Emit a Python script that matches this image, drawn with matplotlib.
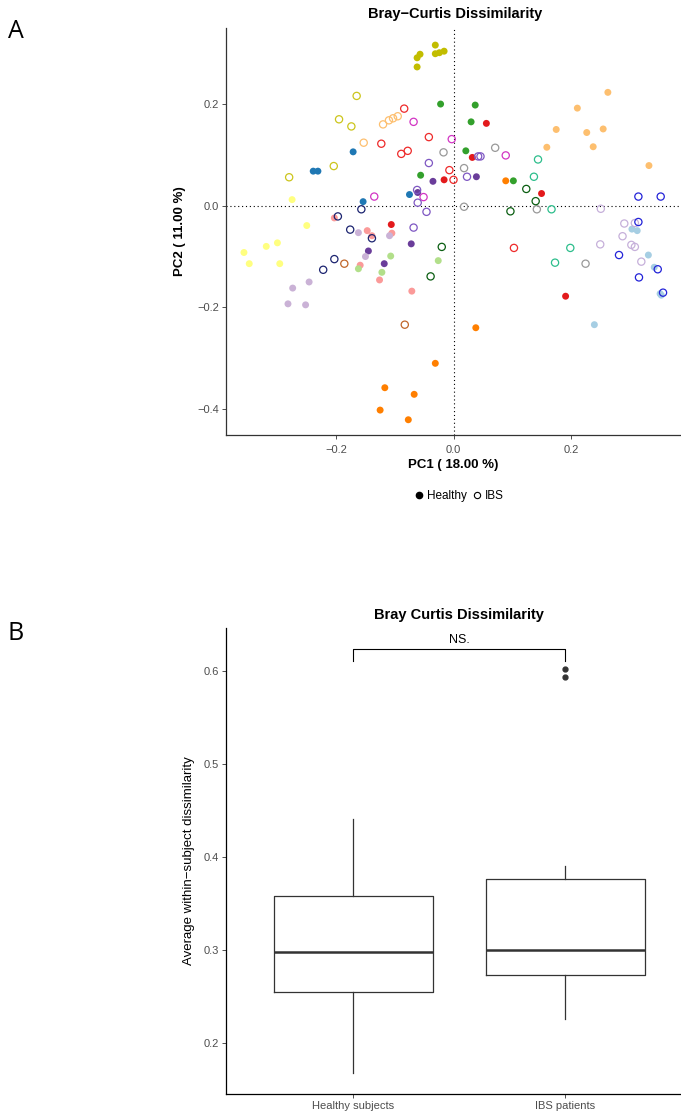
import matplotlib
matplotlib.use("Agg")
import matplotlib.pyplot as plt
from matplotlib.lines import Line2D

plt.rcParams['font.family'] = ['Liberation Sans', 'DejaVu Sans']

# ---- panel A: PCoA coordinates (PC1, PC2) ----
# healthy subjects (filled markers)
h_olive = [(-0.031, 0.316), (-0.057, 0.298), (-0.062, 0.291), (-0.031, 0.299),
           (-0.024, 0.301), (-0.016, 0.304), (-0.062, 0.273)]
h_green = [(-0.022, 0.200), (-0.056, 0.060), (0.037, 0.198), (0.030, 0.165),
           (0.021, 0.108), (0.102, 0.049)]
h_red = [(-0.016, 0.051), (-0.106, -0.037), (0.056, 0.162), (0.032, 0.095),
         (0.150, 0.024), (0.191, -0.178)]
h_blue = [(-0.171, 0.106), (-0.239, 0.068), (-0.231, 0.068), (-0.075, 0.022),
          (-0.154, 0.008)]
h_darkpurple = [(-0.035, 0.048), (-0.061, 0.026), (-0.072, -0.075), (-0.145, -0.089),
                (-0.118, -0.114), (0.039, 0.057)]
h_lightyellow = [(-0.275, 0.012), (-0.250, -0.039), (-0.357, -0.092), (-0.348, -0.114),
                 (-0.319, -0.080), (-0.300, -0.073), (-0.296, -0.114)]
h_pink = [(-0.203, -0.024), (-0.147, -0.049), (-0.139, -0.059), (-0.105, -0.054),
          (-0.159, -0.117), (-0.126, -0.146), (-0.071, -0.168)]
h_lavender = [(-0.162, -0.053), (-0.109, -0.059), (-0.150, -0.100), (-0.246, -0.150),
              (-0.274, -0.162), (-0.282, -0.193), (-0.252, -0.195)]
h_lightgreen = [(-0.026, -0.108), (-0.107, -0.099), (-0.122, -0.131), (-0.162, -0.124)]
h_orange = [(-0.031, -0.310), (-0.117, -0.358), (-0.067, -0.371), (-0.125, -0.402),
            (-0.077, -0.421), (0.038, -0.240), (0.089, 0.049)]
h_lightorange = [(0.263, 0.223), (0.211, 0.192), (0.175, 0.150), (0.227, 0.144),
                 (0.255, 0.151), (0.159, 0.115), (0.238, 0.116), (0.333, 0.079)]
h_lightblue = [(0.304, -0.046), (0.313, -0.049), (0.332, -0.097), (0.342, -0.121),
               (0.354, -0.176), (0.240, -0.234), (0.352, -0.173)]

# IBS patients (open markers)
i_olive = [(-0.165, 0.216), (-0.195, 0.170), (-0.174, 0.156), (-0.204, 0.078),
           (-0.280, 0.056)]
i_lightorange = [(-0.120, 0.160), (-0.110, 0.168), (-0.103, 0.172), (-0.095, 0.176),
                 (-0.153, 0.124)]
i_red = [(-0.084, 0.191), (-0.042, 0.135), (-0.123, 0.122), (-0.089, 0.102),
         (-0.078, 0.108), (-0.007, 0.070), (0.0, 0.051), (0.103, -0.083)]
i_magenta = [(-0.068, 0.165), (-0.003, 0.131), (-0.051, 0.017), (-0.135, 0.018),
             (0.089, 0.099)]
i_gray = [(-0.017, 0.105), (0.071, 0.114), (0.018, 0.074), (0.142, -0.007),
          (0.018, -0.002), (0.225, -0.114)]
i_purple = [(-0.042, 0.084), (-0.062, 0.031), (-0.061, 0.006), (-0.046, -0.012),
            (-0.068, -0.043), (0.042, 0.097), (0.046, 0.097), (0.023, 0.057)]
i_navy = [(-0.157, -0.007), (-0.197, -0.021), (-0.176, -0.047), (-0.139, -0.064),
          (-0.203, -0.105), (-0.222, -0.126)]
i_darkgreen = [(-0.020, -0.081), (-0.039, -0.139), (0.124, 0.033), (0.140, 0.009),
               (0.097, -0.011)]
i_teal = [(0.144, 0.091), (0.137, 0.057), (0.167, -0.007), (0.199, -0.083),
          (0.173, -0.112)]
i_lavender = [(0.251, -0.006), (0.291, -0.035), (0.309, -0.034), (0.288, -0.060),
              (0.303, -0.077), (0.309, -0.081), (0.250, -0.076), (0.320, -0.110)]
i_blue = [(0.315, 0.018), (0.353, 0.018), (0.315, -0.032), (0.282, -0.097),
          (0.348, -0.125), (0.316, -0.141), (0.357, -0.171)]
i_brown = [(-0.186, -0.114), (-0.083, -0.234)]

pc1_label = "PC1 ( 18.00 %)"
pc2_label = "PC2 ( 11.00 %)"

# ---- panel B: boxplot summary (per group) ----
box_labels = ["Healthy subjects", "IBS patients"]
box_whislo = [0.168, 0.226]
box_q1 = [0.2545, 0.2727]
box_med = [0.2975, 0.3003]
box_q3 = [0.358, 0.3763]
box_whishi = [0.4405, 0.3897]
box_fliers = [[], [0.602, 0.5935]]
sig_text = "NS."

W, H = 681, 1114
fig = plt.figure(figsize=(W / 100, H / 100), dpi=100)


def fx(px):
    return px / W


def fy(py):
    return 1 - py / H


healthy = [(h_olive, "#C2BD00"), (h_green, "#33A02C"), (h_red, "#E31A1C"),
           (h_blue, "#1F78B4"), (h_darkpurple, "#6A3D9A"), (h_lightyellow, "#FFFF80"),
           (h_pink, "#FB9A99"), (h_lavender, "#CAB2D6"), (h_lightgreen, "#B2DF8A"),
           (h_orange, "#FF7F00"), (h_lightorange, "#FDBF6F"), (h_lightblue, "#A6CEE3")]
ibs = [(i_olive, "#CCC51C"), (i_lightorange, "#FDBF6F"), (i_red, "#EE2A2A"),
       (i_magenta, "#D235C4"), (i_gray, "#999999"), (i_purple, "#7E57C2"),
       (i_navy, "#1C2470"), (i_darkgreen, "#0B5E12"), (i_teal, "#2DBE8C"),
       (i_lavender, "#C6B0DA"), (i_blue, "#2323D8"), (i_brown, "#C0662A")]

# ---------------- panel A ----------------
ax1 = fig.add_axes([fx(226), fy(435), fx(681) - fx(226), fy(28) - fy(435)])
ax1.axhline(0, color="black", lw=0.8, ls=(0, (1, 2.5)), zorder=1)
ax1.axvline(0, color="black", lw=0.8, ls=(0, (1, 2.5)), zorder=1)
for pts, col in healthy:
    ax1.scatter([p[0] for p in pts], [p[1] for p in pts], s=25, color=col,
                edgecolors="none", zorder=3)
for pts, col in ibs:
    ax1.scatter([p[0] for p in pts], [p[1] for p in pts], s=27, facecolors="none",
                edgecolors=col, linewidths=0.9, zorder=3)

ax1.set_xlim(-0.3876, 0.3876)
ax1.set_ylim(-0.451, 0.3496)
ax1.set_xticks([-0.2, 0.0, 0.2])
ax1.set_yticks([-0.4, -0.2, 0.0, 0.2])
ax1.set_xticklabels(["\u22120.2", "0.0", "0.2"])
ax1.set_yticklabels(["\u22120.4", "\u22120.2", "0.0", "0.2"])
for s in ["top", "right"]:
    ax1.spines[s].set_visible(False)
for s in ["left", "bottom"]:
    ax1.spines[s].set_color("#333333")
    ax1.spines[s].set_linewidth(0.9)
ax1.tick_params(length=3, width=0.6, color="#333333", labelsize=8, labelcolor="#4D4D4D", pad=2)
ax1.tick_params(axis="x", pad=4)
ax1.set_xlabel(pc1_label, fontsize=9.5, fontweight="bold")
ax1.xaxis.set_label_coords(0.5, -0.058)
ax1.set_ylabel(pc2_label, fontsize=9.5, fontweight="bold")
ax1.yaxis.set_label_coords(-0.088, 0.5)
fig.text(fx(455), fy(14), "Bray\u2212Curtis Dissimilarity", ha="center", va="center",
         fontsize=10.5, fontweight="bold")

handles = [Line2D([], [], ls="none", marker="o", markersize=4.5, markerfacecolor="black",
                  markeredgecolor="black"),
           Line2D([], [], ls="none", marker="o", markersize=4.5, markerfacecolor="none",
                  markeredgecolor="black", markeredgewidth=0.8)]
fig.legend(handles, ["Healthy", "IBS"], loc="center", ncol=2, frameon=False,
           bbox_to_anchor=(fx(459), fy(496)), fontsize=8.5, handlelength=0.8,
           handletextpad=0.3, columnspacing=0.4)

# ---------------- panel B ----------------
ax2 = fig.add_axes([fx(226), fy(1094), fx(681) - fx(226), fy(628) - fy(1094)])
stats = []
for i in range(len(box_labels)):
    stats.append({"whislo": box_whislo[i], "q1": box_q1[i], "med": box_med[i],
                  "q3": box_q3[i], "whishi": box_whishi[i], "fliers": box_fliers[i]})
lc = "#333333"
ax2.bxp(stats, positions=[1, 2], widths=0.75, showcaps=False,
        boxprops=dict(color=lc, lw=0.9), whiskerprops=dict(color=lc, lw=0.9),
        medianprops=dict(color=lc, lw=1.8),
        flierprops=dict(marker="o", markerfacecolor=lc, markeredgecolor=lc, markersize=3.5))
ax2.plot([1, 1, 2, 2], [0.611, 0.623, 0.623, 0.611], color="black", lw=0.8)
ax2.text(1.5, 0.6326, sig_text, ha="center", va="center", fontsize=9)
ax2.set_xlim(0.4, 2.547)
ax2.set_ylim(0.145, 0.646)
ax2.set_xticks([1, 2])
ax2.set_xticklabels(box_labels)
ax2.set_yticks([0.2, 0.3, 0.4, 0.5, 0.6])
ax2.set_yticklabels(["0.2", "0.3", "0.4", "0.5", "0.6"])
for s in ["top", "right"]:
    ax2.spines[s].set_visible(False)
for s in ["left", "bottom"]:
    ax2.spines[s].set_color("black")
    ax2.spines[s].set_linewidth(0.9)
ax2.tick_params(length=3, width=0.6, color="#333333", labelsize=8, labelcolor="#4D4D4D", pad=2)
ax2.set_ylabel("Average within\u2212subject dissimilarity", fontsize=9.5)
ax2.yaxis.set_label_coords(-0.068, 0.5)
fig.text(fx(459), fy(615), "Bray Curtis Dissimilarity", ha="center", va="center",
         fontsize=10.5, fontweight="bold")

# panel letters
fig.text(fx(16), fy(31), "A", ha="center", va="center", fontsize=18,
         family=["Open Sans", "DejaVu Sans"])
fig.text(fx(16), fy(634), "B", ha="center", va="center", fontsize=18,
         family=["Open Sans", "DejaVu Sans"])

fig.savefig("out.png", dpi=100)
